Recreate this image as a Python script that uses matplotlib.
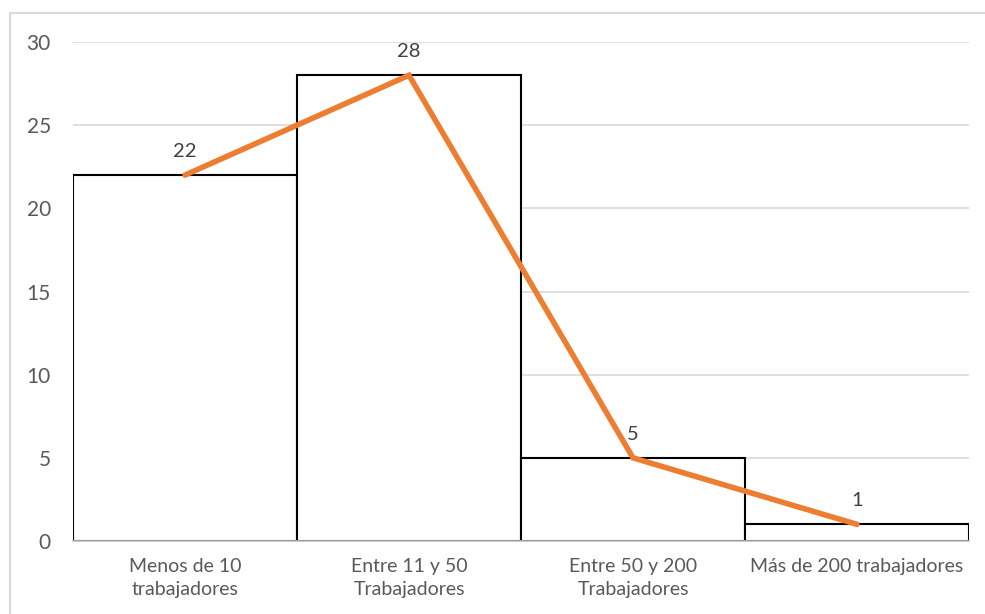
import matplotlib.pyplot as plt
from matplotlib.patches import Rectangle

plt.rcParams['font.family'] = ['Lato', 'DejaVu Sans']

# datos
categorias = ["Menos de 10\ntrabajadores", "Entre 11 y 50\nTrabajadores",
              "Entre 50 y 200\nTrabajadores", "Más de 200 trabajadores"]
empresas = [22, 28, 5, 1]
yticks = [0, 5, 10, 15, 20, 25, 30]

fig = plt.figure(figsize=(9.85, 6.14), dpi=100)
ax = fig.add_axes([73 / 985, 1 - 541 / 614, 896 / 985, 499 / 614])

# marco exterior del gráfico
fig.patches.append(Rectangle((10 / 985, -0.05), 1.0, 1 - 13 / 614 + 0.05,
                             transform=fig.transFigure, fill=False,
                             edgecolor="#D9D9D9", linewidth=1.5))

x = list(range(len(categorias)))

# barras (histograma) y línea de frecuencias
ax.bar(x, empresas, width=1.0, color="white", edgecolor="black",
       linewidth=1.5, zorder=2)
ax.plot(x, empresas, color="#ED7D31", linewidth=4,
        solid_capstyle="round", solid_joinstyle="miter", zorder=3)

for xi, v in zip(x, empresas):
    ax.annotate(str(v), (xi, v), xytext=(0, 11), textcoords="offset points",
                ha="center", va="bottom", fontsize=14.5, color="#404040")

ax.set_xlim(-0.5, len(categorias) - 0.5)
ax.set_ylim(0, 30)
ax.set_yticks(yticks)
ax.set_xticks(x)
ax.set_xticklabels(categorias, fontsize=14, color="#595959",
                   linespacing=1.45)
ax.tick_params(axis="y", labelsize=15, labelcolor="#595959", length=0, pad=16)
ax.tick_params(axis="x", length=0, pad=12)

ax.grid(axis="y", color="#D9D9D9", linewidth=1.2, zorder=0)
ax.set_axisbelow(True)
for s in ["top", "right", "left"]:
    ax.spines[s].set_visible(False)
ax.spines["bottom"].set_color("#BFBFBF")
ax.spines["bottom"].set_linewidth(1.2)

fig.savefig("out.png", dpi=100)
